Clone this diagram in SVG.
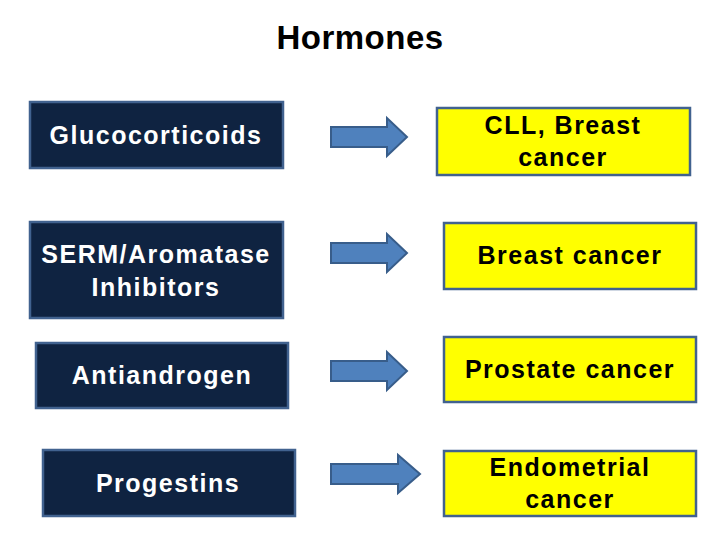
<svg xmlns="http://www.w3.org/2000/svg" width="720" height="540" viewBox="0 0 720 540">
<style>
.l{fill:#0f2341;stroke:#41628f;stroke-width:2.5}
.r{fill:#ffff00;stroke:#41628f;stroke-width:2.5}
.a{fill:#4f81bd;stroke:#385d8a;stroke-width:2}
text{font-family:"Liberation Sans",Arial,sans-serif;font-weight:bold;font-size:25px;letter-spacing:1.5px;text-anchor:middle}
.w{fill:#fff}.k{fill:#000}
</style>
<rect width="720" height="540" fill="#fff"/>
<text x="360" y="49" class="k" style="font-size:33px;letter-spacing:0.5px">Hormones</text>
<g id="n1"><rect class="l" x="30" y="102" width="253" height="66"/><text class="w" x="156" y="144">Glucocorticoids</text></g>
<g id="n2"><rect class="l" x="30" y="222" width="253" height="96"/><text class="w" x="156" y="263">SERM/Aromatase</text><text class="w" x="156" y="296">Inhibitors</text></g>
<g id="n3"><rect class="l" x="36" y="343" width="252" height="65"/><text class="w" x="162" y="384">Antiandrogen</text></g>
<g id="n4"><rect class="l" x="43" y="450" width="252" height="66"/><text class="w" x="168" y="492">Progestins</text></g>
<g id="r1"><rect class="r" x="437" y="108" width="253" height="67"/><text class="k" x="563" y="134">CLL, Breast</text><text class="k" x="563" y="166">cancer</text></g>
<g id="r2"><rect class="r" x="444" y="223" width="252" height="66"/><text class="k" x="570" y="264">Breast cancer</text></g>
<g id="r3"><rect class="r" x="444" y="337" width="252" height="65"/><text class="k" x="570" y="378">Prostate cancer</text></g>
<g id="r4"><rect class="r" x="444" y="451" width="252" height="65"/><text class="k" x="570" y="476">Endometrial</text><text class="k" x="570" y="508">cancer</text></g>
<g id="connectors">
<polygon class="a" points="331,127 387,127 387,118 407,137 387,156 387,147 331,147"/>
<polygon class="a" points="331,243 387,243 387,234 407,253 387,272 387,263 331,263"/>
<polygon class="a" points="331,361 387,361 387,352 407,371 387,390 387,381 331,381"/>
<polygon class="a" points="331,464 398,464 398,455 420,474 398,493 398,484 331,484"/>
</g>
</svg>
